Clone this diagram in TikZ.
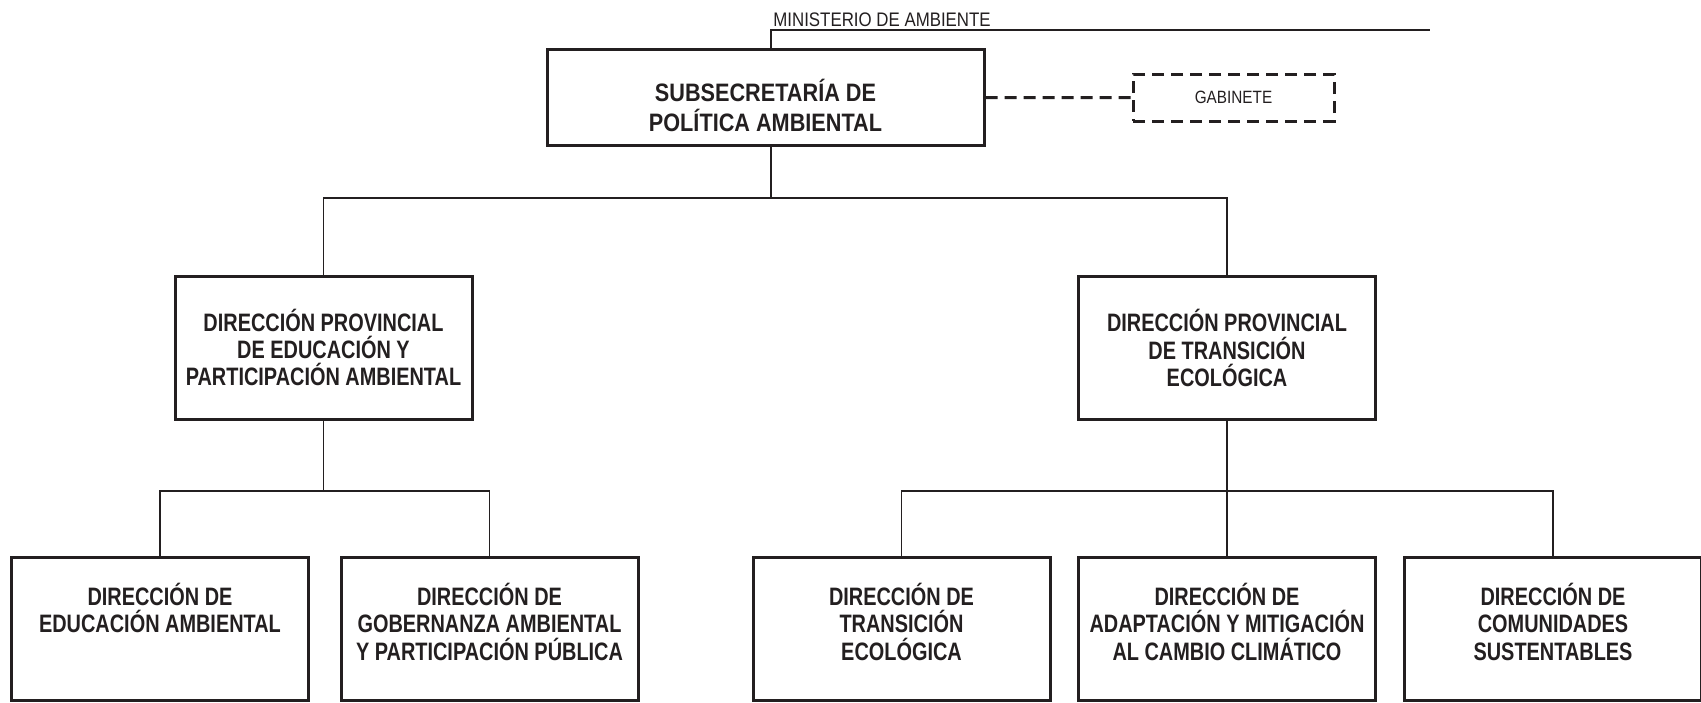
\documentclass[tikz,border=0pt]{standalone}
\usepackage{fontspec}
\setmainfont{Liberation Sans}
\newfontfamily\angosta[FakeStretch=0.79]{Liberation Sans}
\newfontfamily\semiangosta[FakeStretch=0.86]{Liberation Sans}
\definecolor{tinta}{HTML}{231F20}

\begin{document}
\begin{tikzpicture}[x=0.5pt,y=-0.5pt,
  caja/.style={draw=tinta,line width=1.5pt,inner sep=0pt,minimum width=148.5pt,minimum height=71.5pt},
  texto/.style={text=tinta,align=center,inner sep=0pt,font=\angosta\bfseries\fontsize{12.6}{13.6}\selectfont},
  linea/.style={draw=tinta,line width=0.65pt},
  rayas/.style={draw=tinta,line width=1.5pt,dash pattern=on 6pt off 3.5pt}]
\useasboundingbox (0,0) rectangle (1701,702);

% subsecretaria y gabinete
\node[caja,minimum width=218.5pt,minimum height=48pt] (sub) at (765.5,97.6) {};
\path (765.5,79) node[texto,anchor=north,font=\semiangosta\bfseries\fontsize{12.6}{15}\selectfont] (subt) {SUBSECRETARÍA DE\\POLÍTICA AMBIENTAL};
\node[caja,rayas,minimum width=100.5pt,minimum height=23.5pt,text=tinta,font=\semiangosta\fontsize{8.9}{10}\selectfont] (gab) at (1233.5,97.5) {GABINETE};
\node[anchor=south west,inner sep=0pt,text=tinta,font=\semiangosta\fontsize{9.8}{11}\selectfont] (min) at (773,27) {MINISTERIO DE AMBIENTE};

\coordinate (t1) at (771,198);
\coordinate (finmin) at (1430,30);

% direcciones provinciales
\node[caja,texto] (dpea) at (323.5,347.5) {DIRECCIÓN PROVINCIAL\\DE EDUCACIÓN Y\\PARTICIPACIÓN AMBIENTAL};
\node[caja,texto] (dpte) at (1227,348) {DIRECCIÓN PROVINCIAL\\DE TRANSICIÓN\\ECOLÓGICA};

\coordinate (t2) at (323.5,491);
\coordinate (t3) at (1227,491);

% direcciones
\foreach \x/\n in {160/d1,489.5/d2,901.5/d3,1227/d4,1553/d5}
  \node[caja] (\n) at (\x,628.5) {};
\path (160,583) node[texto,anchor=north] (d1t) {DIRECCIÓN DE\\EDUCACIÓN AMBIENTAL}
      (489.5,583) node[texto,anchor=north] (d2t) {DIRECCIÓN DE\\GOBERNANZA AMBIENTAL\\Y PARTICIPACIÓN PÚBLICA}
      (901.5,583) node[texto,anchor=north] (d3t) {DIRECCIÓN DE\\TRANSICIÓN\\ECOLÓGICA}
      (1227,583) node[texto,anchor=north] (d4t) {DIRECCIÓN DE\\ADAPTACIÓN Y MITIGACIÓN\\AL CAMBIO CLIMÁTICO}
      (1553,583) node[texto,anchor=north] (d5t) {DIRECCIÓN DE\\COMUNIDADES\\SUSTENTABLES};

\draw[linea] (t1 |- sub.north) |- (finmin);
\draw[linea] (t1 |- sub.south) -- (t1);
\draw[linea] (dpea.north) |- (t1) -| (dpte.north);
\draw[rayas] (sub.east) -- (gab.west);
\draw[linea] (dpea.south) -- (t2);
\draw[linea] (d1.north) |- (t2) -| (d2.north);
\draw[linea] (dpte.south) -- (d4.north);
\draw[linea] (d3.north) |- (t3) -| (d5.north);
\end{tikzpicture}
\end{document}
